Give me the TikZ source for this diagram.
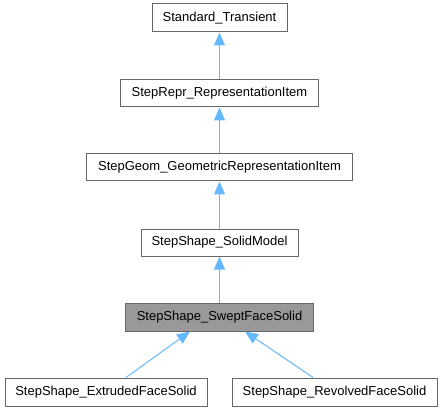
\documentclass[tikz,border=0pt]{standalone}
\usepackage{fontspec}
\setmainfont{Liberation Sans}
\usetikzlibrary{arrows.meta}
\definecolor{edgeblue}{RGB}{99,184,255}
\definecolor{boxgray}{RGB}{102,102,102}
\definecolor{curfill}{RGB}{153,153,153}
\begin{document}
\begin{tikzpicture}[x=1pt,y=-1pt,
  cls/.style={draw=boxgray, fill=white, line width=1pt, inner sep=0pt, font=\fontsize{13}{15}\selectfont},
  cur/.style={cls, fill=curfill},
  inh/.style={draw=edgeblue, line width=1pt, -{Triangle[length=13pt,width=11pt,fill=edgeblue]}}
]
\useasboundingbox (0,0) rectangle (443,411);
\node[cls, minimum width=135pt, minimum height=28pt] (st) at (219.5,18) {Standard\_Transient};
\node[cls, minimum width=198pt, minimum height=27pt] (ri) at (219.5,93.5) {StepRepr\_RepresentationItem};
\node[cls, minimum width=266pt, minimum height=27pt] (gri) at (219.5,167.5) {StepGeom\_GeometricRepresentationItem};
\node[cls, minimum width=157pt, minimum height=27pt] (sm) at (219.5,242.5) {StepShape\_SolidModel};
\node[cur, minimum width=188pt, minimum height=28pt] (sfs) at (219.5,317) {StepShape\_SweptFaceSolid};
\node[cls, minimum width=202pt, minimum height=28pt] (efs) at (106,392) {StepShape\_ExtrudedFaceSolid};
\node[cls, minimum width=205pt, minimum height=28pt] (rfs) at (334.5,392) {StepShape\_RevolvedFaceSolid};
\draw[inh] (ri.north) -- (st.south);
\draw[inh] (gri.north) -- (ri.south);
\draw[inh] (sm.north) -- (gri.south);
\draw[inh] (sfs.north) -- (sm.south);
\draw[inh] (efs.north -| 126,0) -- (sfs.south -| 190,0);
\draw[inh] (rfs.north -| 313,0) -- (sfs.south -| 245,0);
\end{tikzpicture}
\end{document}
